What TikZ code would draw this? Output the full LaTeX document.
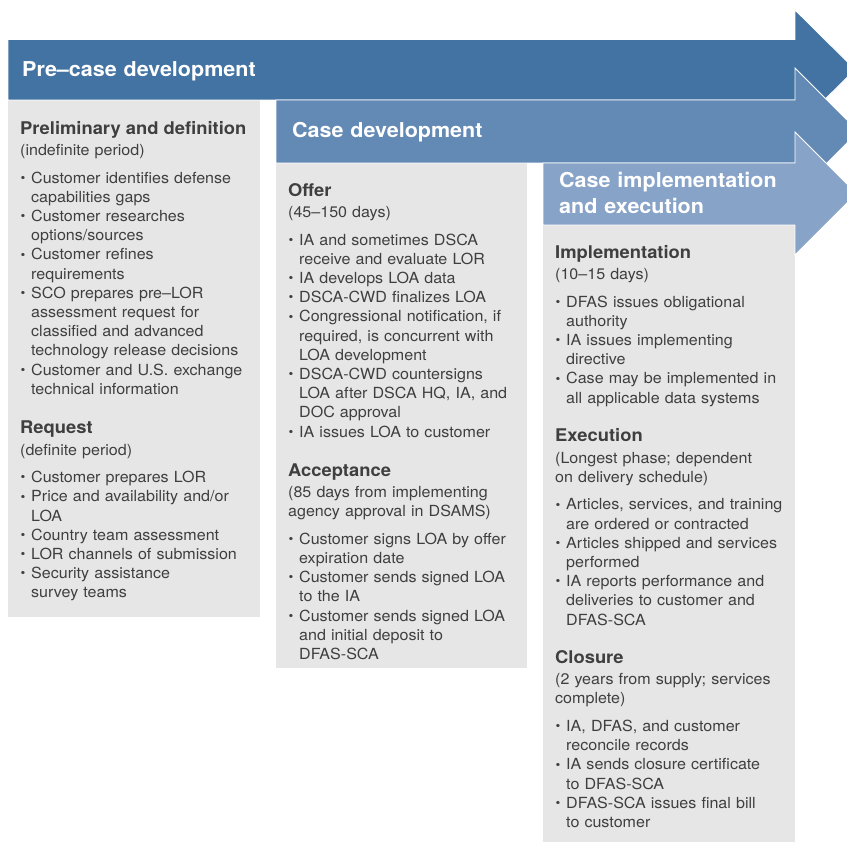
\documentclass[tikz,border=0pt]{standalone}
\usepackage{fontspec}
\setmainfont{TeX Gyre Heros}[FakeStretch=1.05]
\definecolor{arrA}{HTML}{4273A3}
\definecolor{arrB}{HTML}{6389B5}
\definecolor{arrC}{HTML}{87A3C8}
\definecolor{boxgray}{HTML}{E6E6E6}
\definecolor{txt}{HTML}{3F3F3F}
\setlength{\parindent}{0pt}
\setlength{\parskip}{0pt}
\newcommand{\sechd}[1]{{\fontsize{17.5}{19.2}\selectfont\bfseries\rule{0pt}{14pt}#1\par}\vspace{2.3pt}}
\newcommand{\subtl}[1]{#1\par\vspace{8.3pt}}
\newcommand{\itm}[1]{{\hangindent=11pt\hangafter=1\noindent\makebox[11pt][l]{\hspace{0.3pt}\raisebox{0.8pt}{\fontsize{13}{13}\selectfont •}}#1\par}}
\tikzset{
  secnode/.style={anchor=north west, inner sep=0pt, text width=262pt, align=left,
    font=\fontsize{15.3}{19.2}\selectfont, text=txt},
  hdrnode/.style={anchor=north west, inner sep=0pt, text width=300pt, align=left,
    font=\fontsize{20.5}{25.7}\selectfont\bfseries, text=white},
  phase/.style={draw=white, line width=0.8pt, line join=miter},
  panel/.style={fill=boxgray}
}
\begin{document}
\begin{tikzpicture}[x=1pt,y=-1pt]
\useasboundingbox (0,0) rectangle (847,842);
\clip (0,0) rectangle (847,842);
% grey panels
\fill[panel] (8,100) rectangle (260,617);
\fill[panel] (276,163) rectangle (527,668);
\fill[panel] (543,225) rectangle (795,842);
% phase arrows
\filldraw[phase, fill=arrA] (8,39.5) -- (795,39.5) -- (795,10) -- (855,69.5) -- (795,129) -- (795,100) -- (8,100) -- cycle;
\filldraw[phase, fill=arrB] (276,100) -- (795,100) -- (795,68) -- (858.5,131.5) -- (795,195) -- (795,163) -- (276,163) -- cycle;
\filldraw[phase, fill=arrC] (543,163) -- (795,163) -- (795,132) -- (856.5,193.5) -- (795,255) -- (795,225) -- (543,225) -- cycle;
% headers
\node[hdrnode] (hpre) at (22,60.5) {\rule{0pt}{16pt}Pre–case development};
\node[hdrnode] (hcase) at (292,121.5) {\rule{0pt}{16pt}Case development};
\node[hdrnode] (himpl) at (559,171.7) {\rule{0pt}{16pt}Case implementation\newline and execution};
% column 1
\node[secnode] (prelim) at (20,120) {\sechd{Preliminary and definition}%
\subtl{(indefinite period)}%
\itm{Customer identifies defense\newline capabilities gaps}%
\itm{Customer researches\newline options/sources}%
\itm{Customer refines\newline requirements}%
\itm{SCO prepares pre–LOR\newline assessment request for\newline classified and advanced\newline technology release decisions}%
\itm{Customer and U.S. exchange\newline technical information}};
\node[secnode] (request) at (20,419.5) {\sechd{Request}%
\subtl{(definite period)}%
\itm{Customer prepares LOR}%
\itm{Price and availability and/or\newline LOA}%
\itm{Country team assessment}%
\itm{LOR channels of submission}%
\itm{Security assistance\newline survey teams}};
% column 2
\node[secnode] (offer) at (288,182) {\sechd{Offer}%
\subtl{(45–150 days)}%
\itm{IA and sometimes DSCA\newline receive and evaluate LOR}%
\itm{IA develops LOA data}%
\itm{DSCA-CWD finalizes LOA}%
\itm{Congressional notification, if\newline required, is concurrent with\newline LOA development}%
\itm{DSCA-CWD countersigns\newline LOA after DSCA HQ, IA, and\newline DOC approval}%
\itm{IA issues LOA to customer}};
\node[secnode] (accept) at (288,462) {\sechd{Acceptance}%
\subtl{(85 days from implementing\newline agency approval in DSAMS)}%
\itm{Customer signs LOA by offer\newline expiration date}%
\itm{Customer sends signed LOA\newline to the IA}%
\itm{Customer sends signed LOA\newline and initial deposit to\newline DFAS-SCA}};
% column 3
\node[secnode] (implem) at (555,244) {\sechd{Implementation}%
\subtl{(10–15 days)}%
\itm{DFAS issues obligational\newline authority}%
\itm{IA issues implementing\newline directive}%
\itm{Case may be implemented in\newline all applicable data systems}};
\node[secnode] (exec) at (555,427.5) {\sechd{Execution}%
\subtl{(Longest phase; dependent\newline on delivery schedule)}%
\itm{Articles, services, and training\newline are ordered or contracted}%
\itm{Articles shipped and services\newline performed}%
\itm{IA reports performance and\newline deliveries to customer and\newline DFAS-SCA}};
\node[secnode] (closure) at (555,649) {\sechd{Closure}%
\subtl{(2 years from supply; services\newline complete)}%
\itm{IA, DFAS, and customer\newline reconcile records}%
\itm{IA sends closure certificate\newline to DFAS-SCA}%
\itm{DFAS-SCA issues final bill\newline to customer}};
\end{tikzpicture}
\end{document}
